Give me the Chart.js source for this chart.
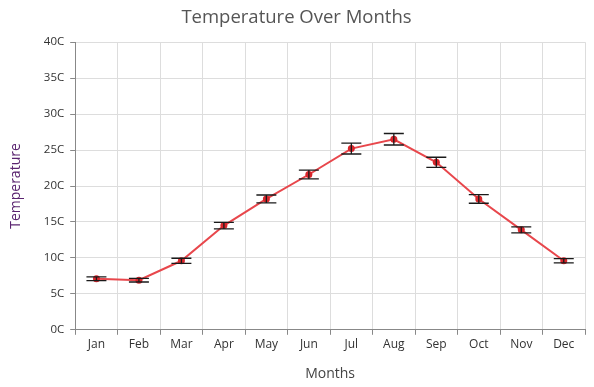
<!DOCTYPE html>
<html>
<head>
<meta charset="utf-8">
<script src="https://cdn.jsdelivr.net/npm/chart.js@4"></script>
<style>
html,body{margin:0;padding:0;background:#fff;}
#wrap{width:594px;height:387px;position:relative;}
</style>
</head>
<body>
<div id="wrap"><canvas id="c" width="594" height="387"></canvas></div>
<script>
const months = ['Jan','Feb','Mar','Apr','May','Jun','Jul','Aug','Sep','Oct','Nov','Dec'];
const temps = [7.1, 6.9, 9.6, 14.5, 18.2, 21.6, 25.2, 26.5, 23.3, 18.2, 13.9, 9.6];
const errors = [0.25, 0.25, 0.35, 0.45, 0.55, 0.6, 0.75, 0.8, 0.7, 0.6, 0.42, 0.3];
const yTicks = [0, 5, 10, 15, 20, 25, 30, 35, 40];

const errorBarPlugin = {
  id: 'errorBars',
  afterDatasetsDraw(chart) {
    const ctx = chart.ctx;
    const meta = chart.getDatasetMeta(0);
    const ys = chart.scales.y;
    ctx.save();
    ctx.strokeStyle = '#1a1a1a';
    ctx.lineWidth = 1.3;
    meta.data.forEach((pt, i) => {
      const x = pt.x;
      const yTop = ys.getPixelForValue(temps[i] + errors[i]);
      const yBot = ys.getPixelForValue(temps[i] - errors[i]);
      ctx.beginPath();
      ctx.moveTo(x, yTop); ctx.lineTo(x, yBot);
      ctx.moveTo(x - 10, yTop); ctx.lineTo(x + 10, yTop);
      ctx.moveTo(x - 10, yBot); ctx.lineTo(x + 10, yBot);
      ctx.stroke();
    });
    ctx.restore();
  }
};

const FONT = "'Open Sans', 'Noto Sans', sans-serif";

new Chart(document.getElementById('c'), {
  type: 'line',
  data: {
    labels: months,
    datasets: [{
      label: 'Temperature',
      data: temps,
      borderColor: '#e8474c',
      backgroundColor: '#d9262c',
      borderWidth: 2,
      pointRadius: 3.5,
      pointBorderWidth: 0,
      pointBackgroundColor: '#d9262c',
      tension: 0,
      fill: false
    }]
  },
  options: {
    responsive: false,
    animation: false,
    layout: { padding: { left: 8, right: 9, top: 0, bottom: 5 } },
    plugins: {
      legend: { display: false },
      tooltip: { enabled: false },
      title: {
        display: true,
        text: 'Temperature Over Months',
        color: '#555555',
        font: { family: FONT, size: 18.5, weight: 'normal' },
        padding: { top: 7, bottom: 13 }
      }
    },
    scales: {
      x: {
        offset: true,
        grid: { offset: true, color: '#dddddd', tickLength: 5, tickColor: '#888888' },
        border: { color: '#888888', width: 1 },
        ticks: { color: '#333333', font: { family: FONT, size: 12 }, padding: 3, maxRotation: 0 },
        title: { display: true, text: 'Months', color: '#444444', font: { family: FONT, size: 14 }, padding: { top: 10, bottom: 0 } }
      },
      y: {
        min: 0, max: 40,
        afterBuildTicks(scale) { scale.ticks = yTicks.map(v => ({ value: v })); },
        grid: { color: '#dddddd', tickLength: 5, tickColor: '#888888' },
        border: { color: '#888888', width: 1 },
        ticks: { color: '#333333', font: { family: FONT, size: 11.5 }, padding: 6, callback: v => v + 'C' },
        title: { display: true, text: 'Temperature', color: '#5a2470', font: { family: FONT, size: 14 }, padding: { top: 0, bottom: 13 } }
      }
    }
  },
  plugins: [errorBarPlugin]
});
</script>
</body>
</html>
